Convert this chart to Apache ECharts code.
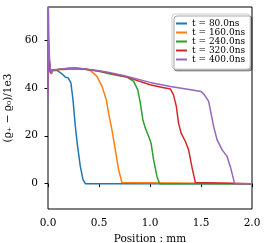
<!DOCTYPE html>
<html><head><meta charset="utf-8">
<script src="https://cdn.jsdelivr.net/npm/echarts@6/dist/echarts.min.js"></script>
<style>html,body{margin:0;padding:0;background:#fff}#c{width:269px;height:243px}</style>
</head><body><div id="c"></div>
<script>
var seriesNames = ['t = 80.0ns', 't = 160.0ns', 't = 240.0ns', 't = 320.0ns', 't = 400.0ns'];
var colors = ['#1f77b4', '#ff7f0e', '#2ca02c', '#d62728', '#9467bd'];
var xTicks = [0, 0.5, 1.0, 1.5, 2.0];
var yTicks = [0, 20, 40, 60];

var x80 = [0, 0.004, 0.012, 0.025, 0.04, 0.06, 0.088, 0.137, 0.17, 0.2, 0.225, 0.245, 0.268, 0.29, 0.317, 0.343, 0.366, 2.0];
var y80 = [40, 52, 48.5, 46.5, 47.3, 47.4, 47.3, 45.9, 44.5, 44.1, 42, 35, 23.9, 15.6, 7.2, 1.7, 0, 0];

var x160 = [0, 0.004, 0.012, 0.025, 0.04, 0.06, 0.1, 0.2, 0.3, 0.38, 0.415, 0.48, 0.53, 0.572, 0.594, 0.627, 0.66, 0.692, 0.725, 0.735, 2.0];
var y160 = [40, 55, 50, 46.5, 47.4, 47.5, 47.6, 47.8, 47.9, 47.7, 47.3, 44.8, 40.6, 35, 29.5, 22.5, 14.2, 5.8, 0.5, 0, 0];

var x240 = [0, 0.004, 0.012, 0.025, 0.04, 0.06, 0.1, 0.2, 0.27, 0.35, 0.5, 0.6, 0.7, 0.775, 0.84, 0.88, 0.905, 0.93, 0.954, 0.986, 1.01, 1.035, 1.068, 1.094, 2.0];
var y240 = [40, 56, 51, 46.5, 47.4, 47.6, 47.7, 48.1, 48.2, 47.9, 46.9, 45.9, 45.1, 44.5, 42.7, 39.2, 33.7, 26.7, 23.2, 19.8, 17, 10, 3, 0, 0];

var x320 = [0, 0.004, 0.012, 0.025, 0.04, 0.06, 0.1, 0.2, 0.27, 0.35, 0.5, 0.6, 0.75, 1.0, 1.1, 1.2, 1.23, 1.258, 1.28, 1.304, 1.346, 1.378, 1.41, 1.444, 1.46, 2.0];
var y320 = [38, 60, 52, 46, 47.4, 47.6, 47.7, 48.1, 48.2, 47.9, 47.1, 46.2, 44.8, 41.3, 40.4, 39.5, 37.2, 32.3, 25.3, 21.2, 17.7, 14.2, 7.2, 0.5, 0, 0];

var x400 = [0, 0.003, 0.008, 0.014, 0.022, 0.035, 0.045, 0.06, 0.1, 0.2, 0.27, 0.35, 0.5, 0.6, 0.75, 1.0, 1.2, 1.4, 1.5, 1.532, 1.575, 1.598, 1.624, 1.657, 1.706, 1.755, 1.787, 1.83, 2.0];
var y400 = [35, 76, 62, 53, 48.5, 45.8, 47.5, 47.6, 47.8, 48.2, 48.3, 48.0, 47.2, 46.4, 45.1, 42.3, 40.6, 39.2, 38.5, 37.2, 34.4, 29.5, 23.9, 18.4, 14.2, 11.4, 7.2, 0, 0];

var xs = [x80, x160, x240, x320, x400];
var ys = [y80, y160, y240, y320, y400];

function pairs(a, b) { return a.map(function (v, i) { return [v, b[i]]; }); }

var font = 'DejaVu Serif';
var chart = echarts.init(document.getElementById('c'), null, { renderer: 'canvas' });
chart.setOption({
  animation: false,
  color: colors,
  textStyle: { fontFamily: font },
  grid: { left: 48, right: 17, top: 7, bottom: 34, outerBoundsMode: 'none', containLabel: false, show: true, borderColor: '#000', borderWidth: 1, backgroundColor: 'transparent' },
  legend: {
    orient: 'vertical', left: 172, top: 14,
    icon: 'rect', itemWidth: 11, itemHeight: 2, itemGap: 0,
    padding: [5, 5, 5, 4],
    backgroundColor: '#fff', borderColor: '#ccc', borderWidth: 1, borderRadius: 3,
    shadowColor: 'rgba(0,0,0,0.35)', shadowBlur: 0, shadowOffsetX: 2, shadowOffsetY: 2,
    textStyle: { fontFamily: font, fontSize: 9, color: '#000', lineHeight: 8.4, padding: [0, 0, 0, 0] },
    data: seriesNames
  },
  xAxis: {
    type: 'value', min: 0, max: 2, interval: 0.5,
    name: 'Position : mm', nameLocation: 'middle', nameGap: 22,
    nameTextStyle: { fontFamily: font, fontSize: 10.5, color: '#000' },
    axisLine: { show: false },
    axisTick: { show: true, length: 3.5, lineStyle: { color: '#000' } },
    axisLabel: { fontFamily: font, fontSize: 10.5, color: '#000', margin: 8.5, formatter: function (v) { return v.toFixed(1); } },
    splitLine: { show: false }
  },
  yAxis: {
    type: 'value', min: -10.6, max: 73.8,
    name: '(ϱ\u208A \u2212 ϱ\u2080)/1e3', nameLocation: 'middle', nameGap: 33, nameRotate: 90,
    nameTextStyle: { fontFamily: font, fontSize: 10.5, color: '#000' },
    axisLine: { show: false },
    axisTick: { show: true, length: 3.5, lineStyle: { color: '#000' }, customValues: yTicks },
    axisLabel: { fontFamily: font, fontSize: 10.5, color: '#000', margin: 10, customValues: yTicks },
    splitLine: { show: false }
  },
  series: seriesNames.map(function (n, i) {
    return {
      name: n, type: 'line', showSymbol: false, symbol: 'none', clip: true,
      lineStyle: { width: 1.5, color: colors[i] },
      itemStyle: { color: colors[i] },
      data: pairs(xs[i], ys[i]), z: 2 + i
    };
  })
});
</script></body></html>
